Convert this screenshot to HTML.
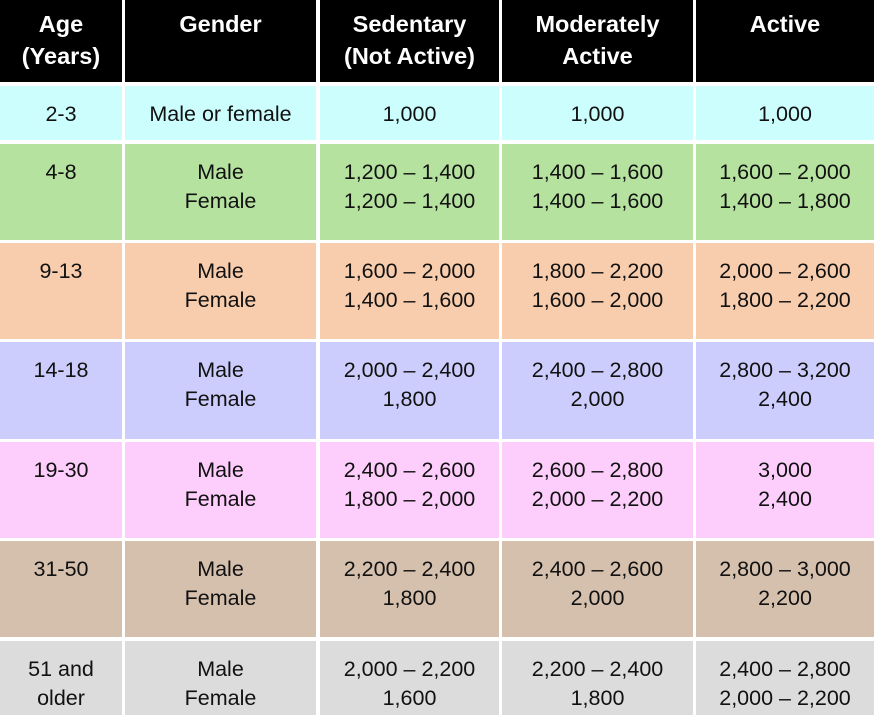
<!DOCTYPE html>
<html><head><meta charset="utf-8">
<style>
html,body{margin:0;padding:0;background:#fff;}
#t{position:relative;width:874px;height:715px;overflow:hidden;background:#fff;font-family:"Liberation Sans",sans-serif;}
.c{position:absolute;box-sizing:border-box;text-align:center;font-size:21.5px;line-height:29px;color:#111;}
.h{background:#000;color:#fff;font-weight:bold;font-size:23.5px;line-height:32px;padding-top:8px;}
</style></head>
<body>
<div id="t"></div>
<script>
const colX=[0,125,320,502,696];
const colW=[122,191,179,191,178];
const rowY=[0,86,144,243,342,442,541,641];
const rowH=[82,54,96,96,97,96,96,74];
const headers=["Age<br>(Years)","Gender","Sedentary<br>(Not Active)","Moderately<br>Active","Active"];
const colors=["#ccfefe","#b6e2a0","#f8cdae","#cdcdfd","#fdcdfc","#d5bfad","#dcdcdc"];
const rows=[
["2-3","Male or female","1,000","1,000","1,000"],
["4-8","Male<br>Female","1,200 – 1,400<br>1,200 – 1,400","1,400 – 1,600<br>1,400 – 1,600","1,600 – 2,000<br>1,400 – 1,800"],
["9-13","Male<br>Female","1,600 – 2,000<br>1,400 – 1,600","1,800 – 2,200<br>1,600 – 2,000","2,000 – 2,600<br>1,800 – 2,200"],
["14-18","Male<br>Female","2,000 – 2,400<br>1,800","2,400 – 2,800<br>2,000","2,800 – 3,200<br>2,400"],
["19-30","Male<br>Female","2,400 – 2,600<br>1,800 – 2,000","2,600 – 2,800<br>2,000 – 2,200","3,000<br>2,400"],
["31-50","Male<br>Female","2,200 – 2,400<br>1,800","2,400 – 2,600<br>2,000","2,800 – 3,000<br>2,200"],
["51 and<br>older","Male<br>Female","2,000 – 2,200<br>1,600","2,200 – 2,400<br>1,800","2,400 – 2,800<br>2,000 – 2,200"]
];
const names=["age","gender","sedentary","moderately-active","active"];
const t=document.getElementById('t');
for(let c=0;c<5;c++){
  const d=document.createElement('div');
  d.className='c h';
  d.style.left=colX[c]+'px';d.style.top=rowY[0]+'px';d.style.width=colW[c]+'px';d.style.height=rowH[0]+'px';
  d.innerHTML=headers[c];
  
  
  t.appendChild(d);
}
for(let r=0;r<rows.length;r++){
  for(let c=0;c<5;c++){
    const d=document.createElement('div');
    d.className='c';
    d.style.left=colX[c]+'px';d.style.top=rowY[r+1]+'px';d.style.width=colW[c]+'px';d.style.height=rowH[r+1]+'px';
    d.style.background=colors[r];
    d.style.paddingTop='14px';
    d.innerHTML=rows[r][c];
    
    
    t.appendChild(d);
  }
}
</script>
</body></html>
